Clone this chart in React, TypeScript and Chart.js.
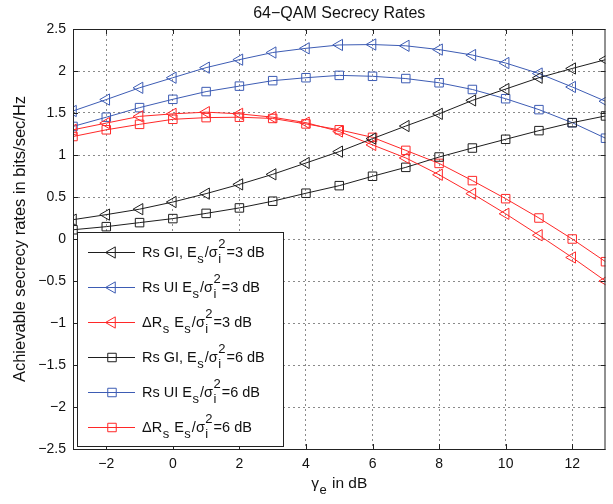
import React, { useEffect, useRef } from 'react';
import { Chart, registerables } from 'chart.js';

Chart.register(...registerables);

// ---------- data ----------
const xValues = [-3, -2, -1, 0, 1, 2, 3, 4, 5, 6, 7, 8, 9, 10, 11, 12, 13];
const rsGI3 = [0.23, 0.29, 0.355, 0.44, 0.54, 0.65, 0.77, 0.905, 1.04, 1.195, 1.345, 1.49, 1.65, 1.785, 1.92, 2.03, 2.135];
const rsUI3 = [1.524, 1.66, 1.8, 1.92, 2.04, 2.135, 2.22, 2.27, 2.31, 2.315, 2.3, 2.255, 2.19, 2.095, 1.97, 1.81, 1.64];
const dRs3 = [1.3, 1.38, 1.46, 1.49, 1.51, 1.49, 1.45, 1.385, 1.28, 1.12, 0.965, 0.765, 0.54, 0.3, 0.045, -0.22, -0.5];
const rsGI6 = [0.11, 0.147, 0.195, 0.243, 0.305, 0.37, 0.45, 0.545, 0.635, 0.747, 0.853, 0.976, 1.083, 1.187, 1.29, 1.385, 1.465];
const rsUI6 = [1.34, 1.45, 1.564, 1.663, 1.755, 1.82, 1.885, 1.92, 1.948, 1.937, 1.91, 1.86, 1.78, 1.67, 1.54, 1.385, 1.2];
const dRs6 = [1.22, 1.3, 1.365, 1.425, 1.445, 1.45, 1.435, 1.37, 1.3, 1.21, 1.055, 0.9, 0.695, 0.48, 0.25, 0.0, -0.27];

const xTicks = [-2, 0, 2, 4, 6, 8, 10, 12];
const yTicks = [-2.5, -2, -1.5, -1, -0.5, 0, 0.5, 1, 1.5, 2, 2.5];

const titleText = '64\u2212QAM Secrecy Rates';
const yTitleText = 'Achievable secrecy rates in bits/sec/Hz';

type Seg = { t?: string; sub?: string; sup?: string };

const legendLabels: Seg[][] = [
  [{ t: 'Rs GI, E' }, { sub: 's' }, { t: '/\u03c3' }, { sub: 'i', sup: '2' }, { t: '=3 dB' }],
  [{ t: 'Rs UI E' }, { sub: 's' }, { t: '/\u03c3' }, { sub: 'i', sup: '2' }, { t: '=3 dB' }],
  [{ t: '\u0394R' }, { sub: 's' }, { t: ' E' }, { sub: 's' }, { t: '/\u03c3' }, { sub: 'i', sup: '2' }, { t: '=3 dB' }],
  [{ t: 'Rs GI, E' }, { sub: 's' }, { t: '/\u03c3' }, { sub: 'i', sup: '2' }, { t: '=6 dB' }],
  [{ t: 'Rs UI E' }, { sub: 's' }, { t: '/\u03c3' }, { sub: 'i', sup: '2' }, { t: '=6 dB' }],
  [{ t: '\u0394R' }, { sub: 's' }, { t: ' E' }, { sub: 's' }, { t: '/\u03c3' }, { sub: 'i', sup: '2' }, { t: '=6 dB' }],
];
const xTitleSegs: Seg[] = [{ t: '\u03b3' }, { sub: 'e' }, { t: ' in dB' }];

const BLACK = '#1e1e1e';
const BLUE = '#3d5cb4';
const RED = '#ff2828';

const seriesValues = [rsGI3, rsUI3, dRs3, rsGI6, rsUI6, dRs6];
const seriesColors = [BLACK, BLUE, RED, BLACK, BLUE, RED];
const seriesMarkers = ['triangle', 'triangle', 'triangle', 'rect', 'rect', 'rect'];

const FONT = '"Liberation Sans", Arial, Helvetica, sans-serif';

function fmt(v: number): string {
  return String(v).replace('-', '\u2212');
}

function drawRich(
  ctx: CanvasRenderingContext2D,
  segs: Seg[],
  x: number,
  y: number,
  size: number,
  small: number,
  subDy: number,
  supDy: number,
  align: 'left' | 'center',
  color: string
) {
  const meas = (s: string, fs: number) => {
    ctx.font = `${fs}px ${FONT}`;
    return ctx.measureText(s).width;
  };
  const widths = segs.map((s) =>
    s.t !== undefined ? meas(s.t, size) : Math.max(s.sub ? meas(s.sub, small) : 0, s.sup ? meas(s.sup, small) : 0) + 1.5
  );
  const total = widths.reduce((a, b) => a + b, 0);
  let cx = align === 'center' ? x - total / 2 : x;
  ctx.fillStyle = color;
  ctx.textAlign = 'left';
  ctx.textBaseline = 'alphabetic';
  segs.forEach((s, i) => {
    if (s.t !== undefined) {
      ctx.font = `${size}px ${FONT}`;
      ctx.fillText(s.t, cx, y);
    } else {
      ctx.font = `${small}px ${FONT}`;
      if (s.sub) ctx.fillText(s.sub, cx + 0.5, y + subDy);
      if (s.sup) ctx.fillText(s.sup, cx + 0.5, y - supDy);
    }
    cx += widths[i];
  });
}

function drawMarker(ctx: CanvasRenderingContext2D, kind: string, x: number, y: number, color: string) {
  ctx.strokeStyle = color;
  ctx.lineWidth = 1;
  ctx.beginPath();
  if (kind === 'triangle') {
    const r = 6.5;
    ctx.moveTo(x - r, y);
    ctx.lineTo(x + r / 2, y - (r * Math.sqrt(3)) / 2);
    ctx.lineTo(x + r / 2, y + (r * Math.sqrt(3)) / 2);
    ctx.closePath();
  } else {
    const h = 6 * Math.SQRT1_2;
    ctx.rect(x - h, y - h, 2 * h, 2 * h);
  }
  ctx.stroke();
}

const decor = {
  id: 'decor',
  afterDatasetsDraw(chart: any) {
    const ctx: CanvasRenderingContext2D = chart.ctx;
    const { left, right, top, bottom } = chart.chartArea;
    const xs = chart.scales.x;
    const ys = chart.scales.y;
    ctx.save();
    // inner tick marks
    ctx.strokeStyle = '#222';
    ctx.lineWidth = 1;
    ctx.beginPath();
    xTicks.forEach((v) => {
      const px = Math.round(xs.getPixelForValue(v)) + 0.5;
      ctx.moveTo(px, bottom);
      ctx.lineTo(px, bottom - 5);
      ctx.moveTo(px, top);
      ctx.lineTo(px, top + 5);
    });
    yTicks.forEach((v) => {
      const py = Math.round(ys.getPixelForValue(v)) + 0.5;
      ctx.moveTo(left, py);
      ctx.lineTo(left + 5, py);
      ctx.moveTo(right, py);
      ctx.lineTo(right - 5, py);
    });
    ctx.stroke();
    // box
    ctx.strokeStyle = '#222';
    ctx.strokeRect(left + 0.5, top + 0.5, right - left - 1, bottom - top);

    // legend
    const lx = 77.5, ly = 232.5, lw = 206, lh = 214;
    ctx.fillStyle = '#fff';
    ctx.fillRect(lx, ly, lw, lh);
    ctx.strokeStyle = '#222';
    ctx.strokeRect(lx, ly, lw, lh);
    legendLabels.forEach((segs, i) => {
      const cy = 252 + i * 35;
      const color = seriesColors[i];
      ctx.strokeStyle = color;
      ctx.lineWidth = 1;
      ctx.beginPath();
      ctx.moveTo(88, cy + 0.5);
      ctx.lineTo(135, cy + 0.5);
      ctx.stroke();
      drawMarker(ctx, seriesMarkers[i], 112, cy + 0.5, color);
      drawRich(ctx, segs, 142, cy + 4.5, 14.5, 13, 6, 9, 'left', '#111');
    });
    ctx.restore();
  },
  afterDraw(chart: any) {
    const ctx: CanvasRenderingContext2D = chart.ctx;
    const { left, right, top, bottom } = chart.chartArea;
    const cxm = (left + right) / 2;
    ctx.save();
    ctx.fillStyle = '#111';
    ctx.font = `16px ${FONT}`;
    ctx.textAlign = 'center';
    ctx.textBaseline = 'alphabetic';
    ctx.fillText(titleText, cxm, 18);
    // y title
    ctx.translate(20, (top + bottom) / 2);
    ctx.rotate(-Math.PI / 2);
    ctx.font = `16.5px ${FONT}`;
    ctx.textAlign = 'center';
    ctx.textBaseline = 'middle';
    ctx.fillText(yTitleText, 0, 0);
    ctx.restore();
    ctx.save();
    drawRich(ctx, xTitleSegs, cxm, 488, 15.5, 13, 6, 9, 'center', '#111');
    ctx.restore();
  },
};

export default function App() {
  const ref = useRef<HTMLCanvasElement>(null);
  useEffect(() => {
    if (!ref.current) return;
    const datasets = seriesValues.map((vals, i) => ({
      data: xValues.map((x, j) => ({ x, y: vals[j] })),
      borderColor: seriesColors[i],
      backgroundColor: 'transparent',
      borderWidth: 1,
      pointStyle: seriesMarkers[i] as any,
      pointRotation: seriesMarkers[i] === 'triangle' ? -90 : 0,
      pointRadius: seriesMarkers[i] === 'triangle' ? 6.5 : 6,
      pointBorderWidth: 1,
      pointBorderColor: seriesColors[i],
      pointBackgroundColor: 'transparent',
      tension: 0,
      fill: false,
    }));
    const chart = new Chart(ref.current, {
      type: 'line',
      data: { datasets },
      plugins: [decor],
      options: {
        responsive: false,
        devicePixelRatio: 1,
        animation: false,
        events: [],
        layout: { padding: { top: 29, right: 7, left: 0, bottom: 0 } },
        plugins: {
          legend: { display: false },
          tooltip: { enabled: false },
          title: { display: false },
        },
        scales: {
          x: {
            type: 'linear',
            min: -3,
            max: 13,
            afterBuildTicks: (s: any) => {
              s.ticks = xTicks.map((v) => ({ value: v }));
            },
            afterFit: (s: any) => {
              s.height = 55;
            },
            ticks: {
              font: { family: FONT, size: 14 },
              color: '#111',
              padding: 7,
              maxRotation: 0,
              autoSkip: false,
              callback: (v: any) => fmt(Number(v)),
            },
            grid: { color: '#8a8a8a', lineWidth: 1, drawTicks: false },
            border: { display: false, dash: [2, 3] },
          },
          y: {
            type: 'linear',
            min: -2.5,
            max: 2.5,
            afterBuildTicks: (s: any) => {
              s.ticks = yTicks.map((v) => ({ value: v }));
            },
            afterFit: (s: any) => {
              s.width = 73;
            },
            ticks: {
              font: { family: FONT, size: 14 },
              color: '#111',
              padding: 7,
              autoSkip: false,
              callback: (v: any) => fmt(Number(v)),
            },
            grid: { color: '#8a8a8a', lineWidth: 1, drawTicks: false },
            border: { display: false, dash: [2, 3] },
          },
        },
      },
    } as any);
    return () => chart.destroy();
  }, []);
  return (
    <div style={{ position: 'absolute', left: 0, top: 0, width: 613, height: 504, background: '#fff' }}>
      <canvas ref={ref} width={613} height={504} style={{ display: 'block', width: 613, height: 504 }} />
    </div>
  );
}
